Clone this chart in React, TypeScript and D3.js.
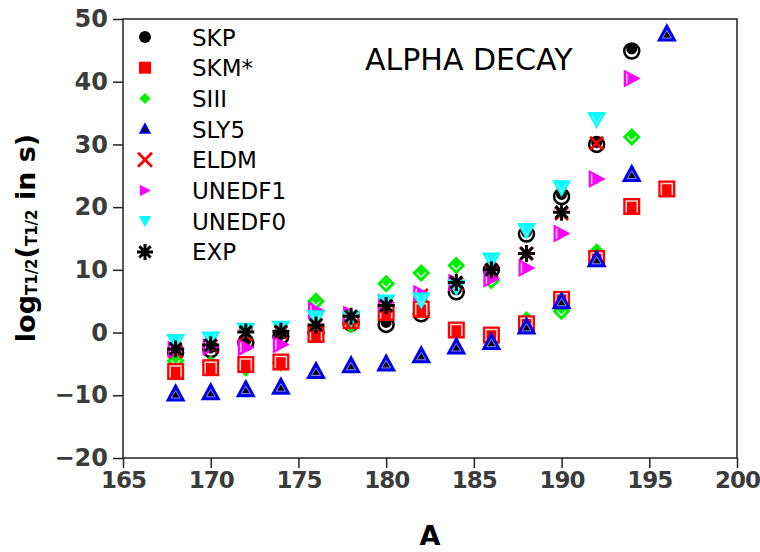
import React, { useEffect, useRef } from "react";
import * as d3 from "d3";

// mass numbers
const massA = [168, 170, 172, 174, 176, 178, 180, 182, 184, 186, 188, 190, 192, 194, 196];

// log10 T1/2 values per model (null = not shown)
const skp = [-3.2, -2.7, -1.6, -0.6, 0.0, 1.5, 1.3, 3.0, 6.5, 10.0, 15.7, 21.7, 30.0, 44.9, null];
const skm = [-6.2, -5.6, -5.1, -4.7, -0.3, 1.9, 3.2, 3.7, 0.4, -0.4, 1.4, 5.3, 11.8, 20.1, 22.9];
const siii = [-4.5, -5.1, -5.6, -4.8, 5.0, 1.3, 7.8, 9.5, 10.7, 8.3, 2.0, 3.4, 12.8, 31.2, null];
const sly5 = [-9.8, -9.6, -9.1, -8.7, -6.2, -5.3, -5.0, -3.7, -2.3, -1.6, 0.9, 4.9, 11.6, 25.2, 47.6];
const eldm = [-3.0, -2.2, -0.3, 0.0, 1.2, 2.4, 4.3, 5.9, 7.8, 9.8, 12.6, 19.0, 30.2, null, null];
const unedf1 = [-2.7, -2.3, -2.4, -1.9, 3.5, 2.9, 4.8, 6.2, 8.0, 8.6, 10.3, 15.8, 24.5, 40.5, null];
const unedf0 = [-1.5, -1.1, 0.3, 0.6, 2.3, 2.2, 4.8, 5.1, 7.2, 11.5, 16.2, 23.0, 33.9, null, null];
const expt = [-2.6, -2.0, 0.1, 0.2, 1.2, 2.6, 4.3, null, 8.0, 10.0, 12.6, 19.2, null, null, null];

const xTicks = [165, 170, 175, 180, 185, 190, 195, 200];
const yTicks = [-20, -10, 0, 10, 20, 30, 40, 50];

const series = [
  { name: "SKP", shape: "circle", vals: skp },
  { name: "SIII", shape: "diamond", vals: siii },
  { name: "SKM*", shape: "square", vals: skm },
  { name: "SLY5", shape: "up", vals: sly5 },
  { name: "ELDM", shape: "cross", vals: eldm },
  { name: "UNEDF1", shape: "right", vals: unedf1 },
  { name: "UNEDF0", shape: "down", vals: unedf0 },
  { name: "EXP", shape: "star", vals: expt },
];
const legendOrder = ["SKP", "SKM*", "SIII", "SLY5", "ELDM", "UNEDF1", "UNEDF0", "EXP"];

function drawMarker(g: any, shape: string, plain: boolean) {
  const hi = (d: string) => {
    if (!plain) g.append("path").attr("d", d).attr("fill", "none").attr("stroke", "#fff").attr("stroke-width", 1.5).attr("opacity", 0.85);
  };
  if (shape === "circle") {
    if (plain) {
      g.append("circle").attr("r", 6).attr("fill", "#000");
    } else {
      g.append("circle").attr("r", 7.5).attr("fill", "#fff").attr("stroke", "#000").attr("stroke-width", 2.5);
      g.append("circle").attr("r", 5.5).attr("cy", -2).attr("fill", "#000");
    }
  } else if (shape === "square") {
    const h = plain ? 6 : 8.5;
    g.append("rect").attr("x", -h).attr("y", -h).attr("width", 2 * h).attr("height", 2 * h).attr("fill", "#ff0000");
    hi("M-5.5,6V-5.5H5.5V6");
  } else if (shape === "diamond") {
    const h = plain ? 5.5 : 9;
    g.append("path").attr("d", `M0,${-h}L${h},0L0,${h}L${-h},0Z`).attr("fill", "#00ee00");
    hi("M-4.5,-0.5L0,4L4.5,-0.5");
  } else if (shape === "up") {
    const k = plain ? 0.62 : 1;
    g.append("path").attr("d", `M0,${-11 * k}L${10 * k},${7.5 * k}L${-10 * k},${7.5 * k}Z`).attr("fill", "#0000e6");
    g.append("path").attr("d", `M0,${-3.5 * k}L${4.5 * k},${4 * k}L${-4.5 * k},${4 * k}Z`).attr("fill", "#000")
      .attr("stroke", plain ? "none" : "#8888ff").attr("stroke-width", 1);
  } else if (shape === "right") {
    const k = plain ? 0.65 : 1;
    g.append("path").attr("d", `M${-8 * k},${-9 * k}L${9 * k},0L${-8 * k},${9 * k}Z`).attr("fill", "#ff00ff");
    hi("M-5,-5V5");
  } else if (shape === "down") {
    const k = plain ? 0.65 : 1;
    g.append("path").attr("d", `M${-9.5 * k},${-8 * k}L${9.5 * k},${-8 * k}L0,${9 * k}Z`).attr("fill", "#00ffff");
    if (!plain) g.append("path").attr("d", "M-5,-5.5L0,4L5,-5.5").attr("fill", "none").attr("stroke", "#fff").attr("stroke-width", 1.2).attr("opacity", 0.5);
  } else if (shape === "cross") {
    const h = plain ? 7 : 6.5;
    g.append("path").attr("d", `M${-h},${-h}L${h},${h}M${-h},${h}L${h},${-h}`).attr("stroke", "#ff0000").attr("stroke-width", 2.8);
  } else if (shape === "star") {
    const h = plain ? 8 : 8.5;
    const d = h * Math.SQRT1_2;
    g.append("path").attr("d", `M0,${-h}V${h}M${-h},0H${h}M${-d},${-d}L${d},${d}M${-d},${d}L${d},${-d}`)
      .attr("stroke", "#000").attr("stroke-width", 3);
  }
}

export default function App() {
  const ref = useRef<SVGSVGElement>(null);

  useEffect(() => {
    const svg = d3.select(ref.current);
    svg.selectAll("*").remove();

    const left = 123, right = 737, top = 19, bottom = 458;
    const x = d3.scaleLinear().domain([165, 200]).range([left, right]);
    const y = d3.scaleLinear().domain([-20, 50]).range([bottom, top]);

    const font = "'DejaVu Sans', sans-serif";

    // frame
    svg.append("rect").attr("x", left).attr("y", top).attr("width", right - left).attr("height", bottom - top)
      .attr("fill", "none").attr("stroke", "#222").attr("stroke-width", 1.5);

    const xa = svg.append("g").attr("transform", `translate(0,${bottom})`)
      .call(d3.axisBottom(x).tickValues(xTicks).tickSize(10).tickPadding(4).tickFormat(d3.format("d")) as any);
    const ya = svg.append("g").attr("transform", `translate(${left},0)`)
      .call(d3.axisLeft(y).tickValues(yTicks).tickSize(10).tickPadding(5)
        .tickFormat((d: any) => (d < 0 ? "\u2212" + Math.abs(d) : String(d))) as any);
    [xa, ya].forEach((a) => {
      a.select(".domain").remove();
      a.selectAll("line").attr("stroke", "#222").attr("stroke-width", 1.5);
      a.selectAll("text").attr("font-family", font).attr("font-size", 24).attr("font-weight", "bold").attr("fill", "#3c3c3c");
    });
    xa.selectAll("text").attr("font-size", 23).attr("letter-spacing", -1);

    // points
    series.forEach((s) => {
      const pts = massA.map((a, i) => ({ a, v: s.vals[i] })).filter((p) => p.v !== null);
      pts.forEach((p) => {
        const g = svg.append("g").attr("transform", `translate(${x(p.a)},${y(p.v as number)})`);
        drawMarker(g, s.shape, false);
      });
    });

    // legend
    legendOrder.forEach((name, i) => {
      const s = series.find((d) => d.name === name)!;
      const cy = 37 + i * 30.7;
      const g = svg.append("g").attr("transform", `translate(145,${cy})`);
      drawMarker(g, s.shape, true);
      svg.append("text").attr("x", 192).attr("y", cy + 8.5).attr("font-family", font).attr("font-size", 23)
        .attr("fill", "#000").text(name);
    });

    svg.append("text").attr("x", 365).attr("y", 70).attr("font-family", font).attr("font-size", 30)
      .attr("fill", "#000").text("ALPHA DECAY");

    // axis titles
    svg.append("text").attr("x", (left + right) / 2).attr("y", 545).attr("text-anchor", "middle")
      .attr("font-family", font).attr("font-size", 27).attr("font-weight", "bold").text("A");

    const yt = svg.append("text").attr("transform", "translate(35,238) rotate(-90)").attr("text-anchor", "middle")
      .attr("font-family", font).attr("font-weight", "bold").attr("font-size", 27);
    yt.append("tspan").text("log");
    yt.append("tspan").attr("font-size", 15).attr("dy", 2).text("T1/2");
    yt.append("tspan").attr("dy", -2).text("(");
    yt.append("tspan").attr("font-size", 15).attr("dy", 2).text("T1/2");
    yt.append("tspan").attr("dy", -2).text(" in s)");
  }, []);

  return (
    <svg ref={ref} width={760} height={552} style={{ position: "absolute", left: 0, top: 0, background: "#fff" }} />
  );
}
